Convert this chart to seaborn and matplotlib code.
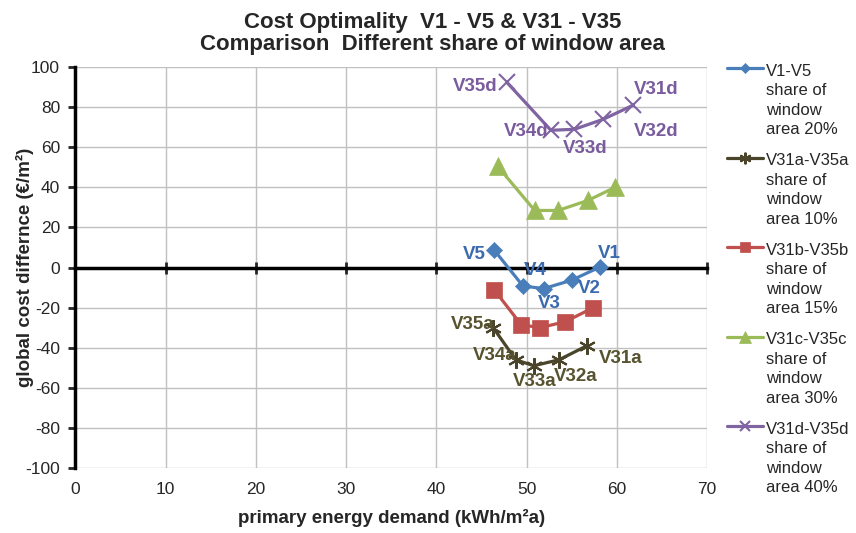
import matplotlib
matplotlib.use("Agg")
import matplotlib.pyplot as plt
import seaborn as sns
from matplotlib.legend_handler import HandlerLine2D

sns.set_style("white")
plt.rcParams['font.family'] = ['Liberation Sans', 'DejaVu Sans']
plt.rcParams['axes.unicode_minus'] = False

# primary energy demand (kWh/m²a) and global cost difference (€/m²), V1 -> V5 order
energy_v = [58.1, 55.0, 51.9, 49.6, 46.4]
cost_v = [0.2, -6.3, -10.5, -9.2, 8.8]
names_v = ['V1', 'V2', 'V3', 'V4', 'V5']

energy_a = [56.7, 53.6, 50.8, 48.8, 46.3]
cost_a = [-39.0, -46.0, -49.0, -46.0, -30.0]
names_a = ['V31a', 'V32a', 'V33a', 'V34a', 'V35a']

energy_b = [57.4, 54.3, 51.5, 49.4, 46.4]
cost_b = [-20.0, -27.0, -30.0, -28.5, -11.0]

energy_c = [59.8, 56.8, 53.5, 50.9, 46.8]
cost_c = [40.0, 33.5, 28.5, 28.5, 50.5]

energy_d = [61.8, 58.5, 55.3, 52.7, 47.8]
cost_d = [81.0, 74.0, 69.0, 68.5, 92.5]
names_d = ['V31d', 'V32d', 'V33d', 'V34d', 'V35d']

legend_labels = ['V1-V5\nshare of\nwindow\narea 20%',
                 'V31a-V35a\nshare of\nwindow\narea 10%',
                 'V31b-V35b\nshare of\nwindow\narea 15%',
                 'V31c-V35c\nshare of\nwindow\narea 30%',
                 'V31d-V35d\nshare of\nwindow\narea 40%']


class FirstLineHandler(HandlerLine2D):
    # put the legend line next to the first text line (Excel style)
    def __init__(self, shift, **kw):
        super().__init__(**kw)
        self.shift = shift

    def create_artists(self, legend, orig_handle, xdescent, ydescent, width, height, fontsize, trans):
        arts = super().create_artists(legend, orig_handle, xdescent, ydescent,
                                      width, height, fontsize, trans)
        for a in arts:
            a.set_ydata([y + self.shift for y in a.get_ydata()])
        return arts


fig, ax = plt.subplots(figsize=(8.56, 5.33), dpi=100)
fig.subplots_adjust(left=0.088, right=0.826, top=0.874, bottom=0.122)

series = [
    (energy_v, cost_v, '#4A7EBB', 'D', 8),
    (energy_a, cost_a, '#4A452A', (6, 2, 0), 12),
    (energy_b, cost_b, '#C0504D', 's', 11),
    (energy_c, cost_c, '#9BBB59', '^', 13),
    (energy_d, cost_d, '#8064A2', 'x', 11),
]
for (x, y, col, mk, ms), lab in zip(series, legend_labels):
    sns.lineplot(x=x, y=y, ax=ax, color=col, marker=mk, markersize=ms,
                 markeredgecolor=col, markeredgewidth=1.5 if mk in ('x', (6, 2, 0)) else 0.5,
                 linewidth=2.3, sort=False, label=lab, zorder=4)

# point labels
offs_v = [(7, 10), (13, -6), (4, -11), (9, 11), (-14, -3)]
offs_a = [(24, -9), (12, -12), (1, -11), (-15, 3), (-15, 2)]
offs_d = [(17, 11), (38, -9), (8, -14), (-18, -1), (-23, -3)]
for xs, ys, nm, offs, col in [(energy_v, cost_v, names_v, offs_v, '#3B6AAE'),
                              (energy_a, cost_a, names_a, offs_a, '#57532F'),
                              (energy_d, cost_d, names_d, offs_d, '#7A5C9E')]:
    for x, y, n, o in zip(xs, ys, nm, offs):
        ax.annotate(n, (x, y), xytext=o, textcoords='offset points', ha='center',
                    va='center', fontsize=13.5, fontweight='bold', color=col, zorder=5)

ax.set_xlim(0, 70)
ax.set_ylim(-100, 100)
ax.set_yticks(range(-100, 101, 20))
ax.set_xticks(range(0, 71, 10))
ax.grid(True, color='#C0C0C0', linewidth=1)
ax.set_axisbelow(True)

for s in ['top', 'right']:
    ax.spines[s].set_visible(False)
ax.spines['left'].set_linewidth(2.5)
ax.spines['left'].set_color('black')
ax.spines['bottom'].set_position(('data', 0))
ax.spines['bottom'].set_linewidth(2.5)
ax.spines['bottom'].set_color('black')
ax.spines['bottom'].set_zorder(3)
ax.tick_params(axis='y', direction='out', length=5, width=2, labelsize=12.5, left=True, pad=6)
ax.tick_params(axis='x', direction='inout', length=8, width=2, labelbottom=False, bottom=True)

sec = ax.secondary_xaxis(0)
sec.set_xticks(range(0, 71, 10))
sec.tick_params(length=0, labelsize=12.5, pad=10)
sec.spines['bottom'].set_visible(False)
sec.set_xlabel('primary energy demand (kWh/m²a)', fontsize=13.5, fontweight='bold', labelpad=9)

ax.set_ylabel('global cost differnce (€/m²)', fontsize=13.5, fontweight='bold')
ax.yaxis.set_label_coords(-0.066, 0.5)
fig.suptitle('Cost Optimality  V1 - V5 & V31 - V35\nComparison  Different share of window area',
             fontsize=16, fontweight='bold', x=0.505, y=0.978, va='top', linespacing=1.05)

handles, labels = ax.get_legend_handles_labels()
ax.legend_.remove()
leg_fs = 12
leg_ls = 1.38
leg = fig.legend(handles, labels, loc='upper left', bbox_to_anchor=(0.842, 0.893),
                 frameon=False, fontsize=leg_fs, handlelength=2.15, handletextpad=0.15,
                 labelspacing=0.95, borderaxespad=0, markerscale=0.7,
                 handler_map={h: FirstLineHandler(1.42 * leg_ls * leg_fs) for h in handles})
for t in leg.get_texts():
    t.set_linespacing(leg_ls)

fig.savefig('out.png', dpi=100)
